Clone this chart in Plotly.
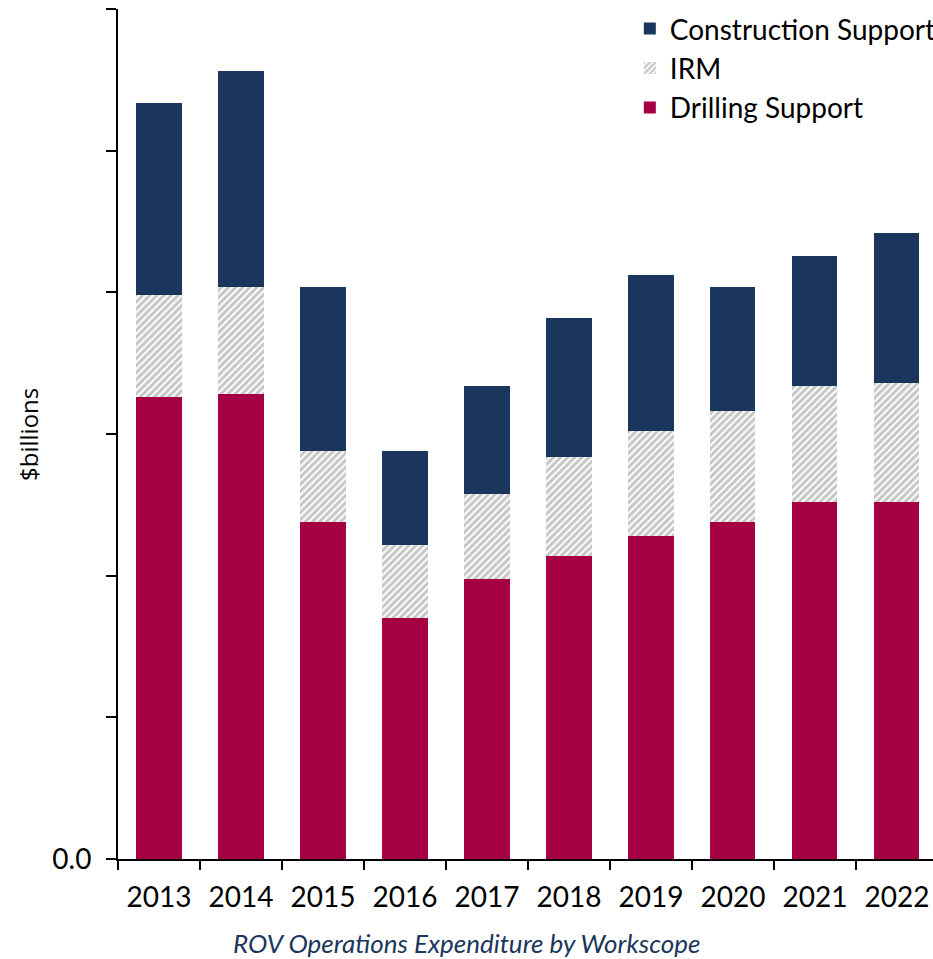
import plotly.graph_objects as go

# ROV operations expenditure by workscope, $ billions
years = ["2013", "2014", "2015", "2016", "2017", "2018", "2019", "2020", "2021", "2022"]
drilling_support = [1.63, 1.64, 1.19, 0.85, 0.99, 1.07, 1.14, 1.19, 1.26, 1.26]
irm = [0.36, 0.38, 0.25, 0.26, 0.30, 0.35, 0.37, 0.39, 0.41, 0.42]
construction_support = [0.68, 0.76, 0.58, 0.33, 0.38, 0.49, 0.55, 0.44, 0.46, 0.53]

y_ticks = [0.0, 0.5, 1.0, 1.5, 2.0, 2.5, 3.0]
y_tick_text = ["0.0", "", "", "", "", "", ""]

NAVY = "#1B365D"
CRIMSON = "#A50044"
FONT = "Lato, 'Open Sans', sans-serif"

fig = go.Figure()
fig.add_trace(go.Bar(
    x=years, y=drilling_support, name="Drilling Support",
    marker=dict(color=CRIMSON, line=dict(width=0)), width=0.55,
    legendrank=3,
))
fig.add_trace(go.Bar(
    x=years, y=irm, name="IRM",
    marker=dict(color="white", line=dict(width=0),
                pattern=dict(shape="/", fgcolor="#8E8E8E", bgcolor="white",
                             size=5, solidity=0.6)),
    width=0.55, legendrank=2,
))
fig.add_trace(go.Bar(
    x=years, y=construction_support, name="Construction Support",
    marker=dict(color=NAVY, line=dict(width=0)), width=0.55,
    legendrank=1,
))

fig.update_layout(
    width=933, height=959,
    barmode="stack",
    plot_bgcolor="white", paper_bgcolor="white",
    margin=dict(l=118, r=0, t=9, b=100, autoexpand=False),
    font=dict(family=FONT, size=28, color="black"),
    showlegend=True,
    legend=dict(
        x=0.628, y=1.006, xanchor="left", yanchor="top",
        traceorder="normal",
        font=dict(family=FONT, size=28, color="black"),
        bgcolor="rgba(0,0,0,0)", itemwidth=30,
    ),
    xaxis=dict(
        type="category", range=[-0.5, 9.44],
        showline=True, linecolor="black", linewidth=2,
        ticks="outside", tickson="boundaries", ticklen=9, tickwidth=2,
        tickcolor="black", showgrid=False, zeroline=False,
        tickfont=dict(family=FONT, size=28, color="black"),
        ticklabelstandoff=12,
    ),
    yaxis=dict(
        range=[0, 3.0], tickvals=y_ticks, ticktext=y_tick_text,
        showline=True, linecolor="black", linewidth=2,
        ticks="outside", ticklen=10, tickwidth=2, tickcolor="black",
        showgrid=False, zeroline=False,
        tickfont=dict(family=FONT, size=28, color="black"),
        ticklabelstandoff=9,
    ),
    annotations=[
        dict(text="$billions", xref="paper", yref="paper",
             x=(28 - 118) / 815, y=(859 - 435) / 850,
             xanchor="center", yanchor="middle", textangle=-90,
             showarrow=False,
             font=dict(family="'Open Sans', sans-serif", size=24, color="black")),
        dict(text="<i>ROV Operations Expenditure by Workscope</i>",
             xref="paper", yref="paper",
             x=(466 - 118) / 815, y=-(943 - 859) / 850,
             xanchor="center", yanchor="middle", showarrow=False,
             font=dict(family=FONT, size=26, color=NAVY)),
    ],
)

fig.write_html("out.html")
